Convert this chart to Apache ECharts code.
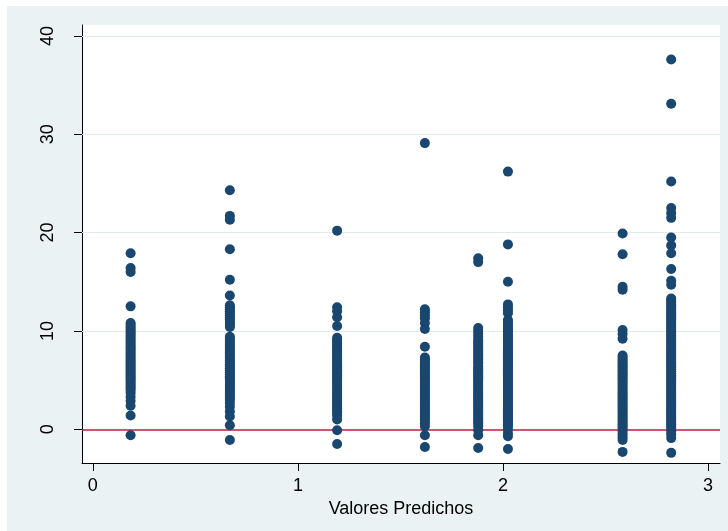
<!DOCTYPE html>
<html>
<head>
<meta charset="utf-8">
<script src="https://cdn.jsdelivr.net/npm/echarts@6/dist/echarts.min.js"></script>
<style>
  html, body { margin: 0; padding: 0; background: #ffffff; }
  #chart { width: 728px; height: 531px; }
</style>
</head>
<body>
<div id="chart"></div>
<script>
// Fitted values (one column of residuals per fitted value)
const fitted = [0.184, 0.668, 1.191, 1.619, 1.879, 2.024, 2.583, 2.820];

// Residuals for each fitted value
const res1 = [17.9, 16.4, 16.0, 12.5,
  10.8, 10.6, 10.4, 10.2, 10.0, 9.8, 9.6, 9.4, 9.2, 9.0, 8.8, 8.6, 8.4, 8.2, 8.0, 7.8, 7.6, 7.4, 7.2, 7.0,
  6.8, 6.6, 6.4, 6.2, 6.0, 5.8, 5.6, 5.4, 5.2, 5.0, 4.8, 4.6, 4.4, 4.2, 4.0, 3.7, 3.3, 2.9, 2.4, 1.4, -0.6];
const res2 = [24.3, 21.7, 21.3, 18.3, 15.2, 13.6,
  12.6, 12.4, 12.2, 12.0, 11.8, 11.6, 11.4, 11.2, 11.0, 10.8, 10.6, 10.4,
  9.4, 9.2, 9.0, 8.8, 8.6, 8.4, 8.2, 8.0, 7.8, 7.6, 7.4, 7.2, 7.0, 6.8, 6.6, 6.4, 6.2, 6.0, 5.8, 5.6, 5.4,
  5.2, 5.0, 4.8, 4.6, 4.4, 4.2, 4.0, 3.8, 3.6, 3.4, 3.2, 3.0, 2.7, 2.3, 1.8, 1.3, 0.4, -1.1];
const res3 = [20.2, 12.4, 12.0, 11.4, 10.5,
  9.3, 9.1, 8.9, 8.7, 8.5, 8.3, 8.1, 7.9, 7.7, 7.5, 7.3, 7.1, 6.9, 6.7, 6.5, 6.3, 6.1, 5.9, 5.7, 5.5, 5.3,
  5.1, 4.9, 4.7, 4.5, 4.3, 4.1, 3.9, 3.7, 3.5, 3.3, 3.1, 2.9, 2.7, 2.5, 2.3, 2.1, 1.9, 1.7, 1.4, 1.0, -0.1, -1.5];
const res4 = [29.1, 12.2, 11.9, 11.6, 11.3, 10.8, 10.2, 8.4,
  7.3, 7.1, 6.9, 6.7, 6.5, 6.3, 6.1, 5.9, 5.7, 5.5, 5.3, 5.1, 4.9, 4.7, 4.5, 4.3, 4.1, 3.9, 3.7, 3.5, 3.3,
  3.1, 2.9, 2.7, 2.5, 2.3, 2.1, 1.9, 1.7, 1.5, 1.3, 1.1, 0.9, 0.6, 0.3, -0.6, -1.8];
const res5 = [17.4, 17.0,
  10.3, 10.0, 9.7, 9.4, 9.1, 8.9, 8.7, 8.5, 8.3, 8.1, 7.9, 7.7, 7.5, 7.3, 7.1, 6.9, 6.7,
  6.4, 6.2, 6.0, 5.8, 5.6, 5.4, 5.2, 5.0, 4.8, 4.6, 4.4, 4.2, 4.0, 3.8, 3.6, 3.4, 3.2, 3.0, 2.8, 2.6, 2.4,
  2.2, 2.0, 1.8, 1.6, 1.4, 1.2, 1.0, 0.8, 0.6, 0.3, -0.1, -0.6, -1.9];
const res6 = [26.2, 18.8, 15.0, 12.7, 12.4, 12.1, 11.8,
  11.1, 10.9, 10.7, 10.5, 10.3, 10.1, 9.9, 9.7, 9.5, 9.3, 9.1, 8.9, 8.7, 8.5, 8.3, 8.1, 7.9, 7.7, 7.5, 7.3,
  7.1, 6.9, 6.7, 6.5, 6.3, 6.1, 5.9, 5.7, 5.5, 5.3, 5.1, 4.9, 4.7, 4.5, 4.3, 4.1, 3.9, 3.7, 3.5, 3.3, 3.1,
  2.9, 2.7, 2.5, 2.3, 2.1, 1.9, 1.7, 1.5, 1.3, 1.1, 0.9, 0.7, 0.5, 0.3, 0.0, -0.4, -0.7, -2.0];
const res7 = [19.9, 17.8, 14.5, 14.2, 10.1, 9.7, 9.2,
  7.5, 7.3, 7.1, 6.9, 6.7, 6.5, 6.3, 6.1, 5.9, 5.7, 5.5, 5.3, 5.1, 4.9, 4.7, 4.5, 4.3, 4.1, 3.9, 3.7, 3.5,
  3.3, 3.1, 2.9, 2.7, 2.5, 2.3, 2.1, 1.9, 1.7, 1.5, 1.3, 1.1, 0.9, 0.7, 0.5, 0.3, 0.1, -0.2, -0.5, -0.8,
  -1.1, -2.3];
const res8 = [37.6, 33.1, 25.2, 22.5, 22.0, 21.5, 19.5, 18.7, 17.9, 16.3, 15.1, 14.7,
  13.3, 13.1, 12.9, 12.7, 12.5, 12.3, 12.1, 11.9, 11.7, 11.5, 11.3, 11.1, 10.9, 10.7, 10.5, 10.3, 10.1,
  9.9, 9.7, 9.5, 9.3, 9.1, 8.9, 8.7, 8.5, 8.3, 8.1, 7.9, 7.7, 7.5, 7.3, 7.1, 6.9, 6.7, 6.5, 6.3, 6.1,
  5.9, 5.7, 5.5, 5.3, 5.1, 4.9, 4.7, 4.5, 4.3, 4.1, 3.9, 3.7, 3.5, 3.3, 3.1, 2.9, 2.7, 2.5, 2.3, 2.1,
  1.9, 1.7, 1.5, 1.3, 1.1, 0.9, 0.7, 0.5, 0.3, 0.1, -0.2, -0.5, -0.9, -2.4];

const residuals = [res1, res2, res3, res4, res5, res6, res7, res8];

// Axis ticks and reference lines
const xTicks = [0, 1, 2, 3];
const yTicks = [0, 10, 20, 30, 40];
const yGrid = [10, 20, 30, 40];
const refLine = 0;
const xTitle = 'Valores Predichos';

const points = [];
fitted.forEach((fx, i) => {
  residuals[i].forEach(r => points.push([fx, r]));
});

const FONT = '"Liberation Sans", Arial, sans-serif';
const chart = echarts.init(document.getElementById('chart'), null, { renderer: 'canvas' });

chart.setOption({
  backgroundColor: '#ffffff',
  animation: false,
  graphic: [{
    type: 'rect',
    z: -10,
    silent: true,
    shape: { x: 7, y: 6, width: 721, height: 525 },
    style: { fill: '#eaf2f3' }
  }],
  grid: {
    left: 82, top: 25, right: 8, bottom: 68,
    show: true,
    backgroundColor: '#ffffff',
    borderWidth: 0
  },
  xAxis: {
    type: 'value',
    min: -0.053,
    max: 3.058,
    name: xTitle,
    nameLocation: 'middle',
    nameGap: 31,
    nameTextStyle: { fontFamily: FONT, fontSize: 18, color: '#000' },
    axisLine: { show: true, onZero: false, lineStyle: { color: '#000', width: 1 } },
    axisTick: { show: true, length: 8, customValues: xTicks, lineStyle: { color: '#000' } },
    axisLabel: { customValues: xTicks, margin: 14, fontFamily: FONT, fontSize: 18, color: '#000' },
    splitLine: { show: false }
  },
  yAxis: {
    type: 'value',
    min: -3.43,
    max: 41.11,
    axisLine: { show: true, onZero: false, lineStyle: { color: '#000', width: 1 } },
    axisTick: { show: true, length: 8, customValues: yTicks, lineStyle: { color: '#000' } },
    axisLabel: { customValues: yTicks, rotate: 90, margin: 25, fontFamily: FONT, fontSize: 18, color: '#000' },
    splitLine: { show: false }
  },
  series: [{
    type: 'scatter',
    data: points,
    symbol: 'circle',
    symbolSize: 10,
    itemStyle: { color: '#1a476f', opacity: 1 },
    z: 5,
    markLine: {
      silent: true,
      symbol: 'none',
      label: { show: false },
      z: 3,
      data: yGrid.map(v => ({ yAxis: v, lineStyle: { color: '#e2eaec', width: 1, type: 'solid' } }))
        .concat([{ yAxis: refLine, lineStyle: { color: '#bb1e3c', width: 1.6, type: 'solid' } }])
    }
  }]
});
</script>
</body>
</html>
